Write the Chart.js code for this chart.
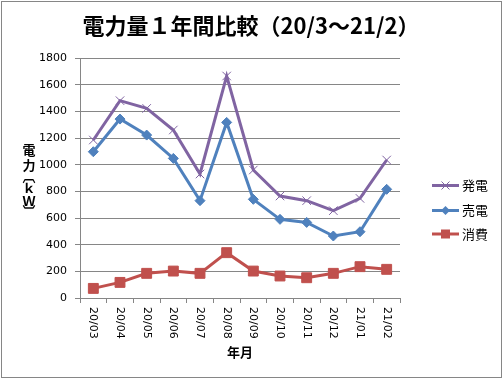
<!DOCTYPE html>
<html>
<head>
<meta charset="utf-8">
<script src="https://cdn.jsdelivr.net/npm/chart.js@4/dist/chart.umd.min.js"></script>
<style>
  html, body { margin: 0; padding: 0; background: #fff; }
  #wrap { width: 504px; height: 379px; }
</style>
</head>
<body>
<div id="wrap"><canvas id="c" width="504" height="379"></canvas></div>
<script>
const categories = ['20/03','20/04','20/05','20/06','20/07','20/08','20/09','20/10','20/11','20/12','21/01','21/02'];
const hatsuden = [1185, 1480, 1422, 1260, 930, 1665, 960, 765, 730, 655, 747, 1035];
const baiden   = [1097, 1342, 1222, 1047, 730, 1317, 740, 590, 567, 465, 497, 815];
const shohi    = [72, 117, 185, 202, 185, 340, 202, 165, 152, 185, 235, 215];
const seriesNames = ['発電', '売電', '消費'];
const yTitleChars = ['電', '力', '︹', 'ｋ', 'Ｗ', '︺'];
const chartTitle = '電力量１年間比較（20/3～21/2）';
const xTitle = '年月';

const PURPLE = '#8064A2', BLUE = '#4F81BD', RED = '#C0504D', GRID = '#868686';
const JP = '"Noto Sans CJK JP", sans-serif';
const NUM = '"DejaVu Sans", "Noto Sans CJK JP", sans-serif';

const framePlugin = {
  id: 'frame',
  beforeDraw(chart) {
    const ctx = chart.ctx;
    ctx.save();
    ctx.fillStyle = '#fff';
    ctx.fillRect(0, 0, chart.width, chart.height);
    ctx.restore();
  },
  afterDraw(chart) {
    const ctx = chart.ctx;
    ctx.save();
    ctx.strokeStyle = GRID;
    ctx.lineWidth = 1;
    ctx.strokeRect(1.5, 1.5, 500, 376);

    // chart title
    ctx.fillStyle = '#000';
    ctx.font = 'bold 22px ' + JP;
    ctx.textAlign = 'center';
    ctx.textBaseline = 'middle';
    ctx.fillText(chartTitle, 251, 26);

    // x tick labels rotated clockwise (read top to bottom)
    const xs = chart.scales.x;
    ctx.font = '11px ' + NUM;
    ctx.textAlign = 'left';
    ctx.textBaseline = 'middle';
    categories.forEach((lab, i) => {
      const px = xs.getPixelForTick(i);
      ctx.save();
      ctx.translate(px, xs.top + 9);
      ctx.rotate(Math.PI / 2);
      ctx.fillText(lab, 0, 0);
      ctx.restore();
    });

    // vertical y-axis title
    ctx.font = 'bold 13px ' + JP;
    ctx.textAlign = 'center';
    ctx.textBaseline = 'middle';
    const ys = [150, 165, 176, 188, 201, 211];
    yTitleChars.forEach((ch, i) => ctx.fillText(ch, 29, ys[i]));

    // legend
    const items = [
      { label: seriesNames[0], color: PURPLE, style: 'x', y: 185.5 },
      { label: seriesNames[1], color: BLUE, style: 'diamond', y: 210.5 },
      { label: seriesNames[2], color: RED, style: 'square', y: 234 }
    ];
    items.forEach(it => {
      ctx.strokeStyle = it.color;
      ctx.lineWidth = 3;
      ctx.beginPath();
      ctx.moveTo(432, it.y);
      ctx.lineTo(459, it.y);
      ctx.stroke();
      const cx = 445.5, cy = it.y;
      ctx.fillStyle = it.color;
      if (it.style === 'x') {
        ctx.lineWidth = 1;
        ctx.beginPath();
        ctx.moveTo(cx - 4, cy - 4); ctx.lineTo(cx + 4, cy + 4);
        ctx.moveTo(cx + 4, cy - 4); ctx.lineTo(cx - 4, cy + 4);
        ctx.stroke();
      } else if (it.style === 'diamond') {
        ctx.beginPath();
        ctx.moveTo(cx, cy - 4.5); ctx.lineTo(cx + 4.5, cy);
        ctx.lineTo(cx, cy + 4.5); ctx.lineTo(cx - 4.5, cy);
        ctx.closePath(); ctx.fill();
      } else {
        ctx.fillRect(cx - 4.5, cy - 4.5, 9, 9);
      }
      ctx.fillStyle = '#000';
      ctx.font = '13px ' + JP;
      ctx.textAlign = 'left';
      ctx.fillText(it.label, 462, it.y);
    });
    ctx.restore();
  }
};

new Chart(document.getElementById('c'), {
  type: 'line',
  data: {
    labels: categories,
    datasets: [
      { label: seriesNames[0], data: hatsuden, borderColor: PURPLE, backgroundColor: PURPLE,
        borderWidth: 3, pointStyle: 'crossRot', pointRadius: 6, pointBorderWidth: 1,
        pointBorderColor: PURPLE, tension: 0 },
      { label: seriesNames[1], data: baiden, borderColor: BLUE, backgroundColor: BLUE,
        borderWidth: 3, pointStyle: 'rectRot', pointRadius: 5, pointBorderWidth: 1, tension: 0 },
      { label: seriesNames[2], data: shohi, borderColor: RED, backgroundColor: RED,
        borderWidth: 3, pointStyle: 'rect', pointRadius: 7, pointBorderWidth: 1, tension: 0 }
    ]
  },
  options: {
    responsive: false,
    animation: false,
    layout: { padding: { left: 0, right: 104, top: 58, bottom: 0 } },
    plugins: {
      legend: { display: false },
      tooltip: { enabled: false },
      title: { display: false }
    },
    scales: {
      x: {
        type: 'category',
        offset: true,
        grid: { display: true, drawOnChartArea: false, drawTicks: true, tickLength: 5, offset: true, color: GRID },
        border: { display: true, color: GRID },
        ticks: { display: false },
        title: { display: true, text: xTitle, color: '#000',
                 font: { family: JP, size: 13, weight: 'bold', lineHeight: 1.2 },
                 padding: { top: 0, bottom: 19 } },
        afterFit(scale) { scale.height = 81; }
      },
      y: {
        min: 0, max: 1800,
        ticks: { stepSize: 200, color: '#000', font: { family: NUM, size: 11 }, padding: 8,
                 callback: v => String(v) },
        grid: { color: GRID, tickLength: 5, drawTicks: true },
        border: { display: true, color: GRID },
        afterFit(scale) { scale.width = 80; }
      }
    }
  },
  plugins: [framePlugin]
});
</script>
</body>
</html>
